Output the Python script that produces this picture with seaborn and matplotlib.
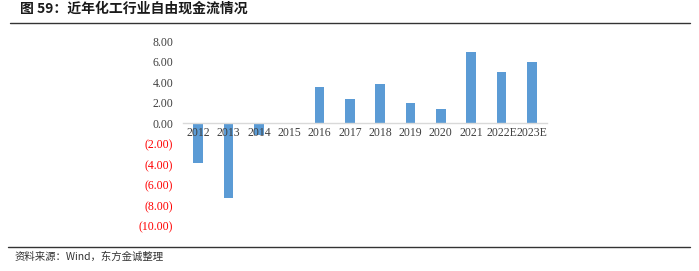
import matplotlib
matplotlib.use("Agg")
import matplotlib.pyplot as plt
import seaborn as sns
import pandas as pd

years = ["2012", "2013", "2014", "2015", "2016", "2017", "2018", "2019", "2020", "2021", "2022E", "2023E"]
fcf = [-3.9, -7.3, -1.1, 0.0, 3.55, 2.4, 3.85, 1.98, 1.43, 6.95, 5.0, 5.98]
yticks = [8, 6, 4, 2, 0, -2, -4, -6, -8, -10]

sns.set_theme(style="white")
plt.rcParams['font.family'] = ['Noto Sans CJK SC', 'DejaVu Sans']

df = pd.DataFrame({"year": years, "value": fcf})

fig = plt.figure(figsize=(6.99, 2.71), dpi=100)
ax = fig.add_axes([183/699, 1-226/271, (547-183)/699, (226-41)/271])
sns.barplot(data=df, x="year", y="value", color="#5B9BD5", width=0.31,
            saturation=1, ax=ax, edgecolor="none")
for p in ax.patches:
    p.set_zorder(1)
ax.set_xlim(-0.5, 11.5)
ax.set_ylim(-10, 8)
ax.set_xlabel("")
ax.set_ylabel("")
for s in ["top", "right", "left"]:
    ax.spines[s].set_visible(False)
ax.spines["bottom"].set_position(("data", 0))
ax.spines["bottom"].set_color("#D9D9D9")
ax.spines["bottom"].set_linewidth(1.0)
ax.spines["bottom"].set_zorder(2)
ax.xaxis.set_zorder(5)
ax.yaxis.set_zorder(5)

ax.set_yticks(yticks)
labels = []
for v in yticks:
    if v < 0:
        labels.append(f"({abs(v):.2f})")
    else:
        labels.append(f"{v:.2f}")
ax.set_yticklabels(labels, family=["Liberation Serif", "DejaVu Serif"], fontsize=8.5)
for lab, v in zip(ax.get_yticklabels(), yticks):
    lab.set_color("#FF0000" if v < 0 else "#404040")
ax.tick_params(axis="y", length=0, pad=7)
ax.tick_params(axis="x", length=0, pad=3)
ax.set_xticks(range(len(years)))
ax.set_xticklabels(years, family=["Liberation Serif", "DejaVu Serif"], fontsize=8.5, color="#404040")
ax.grid(False)

fig.text(20/699, 1-9/271, "图 59：近年化工行业自由现金流情况", fontsize=10, fontweight="bold",
         va="center", ha="left", color="#1a1a1a")
fig.add_artist(plt.Line2D([10/699, 690/699], [1-23/271, 1-23/271], color="#333333", lw=1.0))
fig.add_artist(plt.Line2D([8/699, 690/699], [1-247/271, 1-247/271], color="#333333", lw=1.0))
fig.text(15/699, 1-257/271, "资料来源：Wind，东方金诚整理", fontsize=7.5, va="center", ha="left",
         color="#333333")

fig.savefig("out.png", dpi=100)
